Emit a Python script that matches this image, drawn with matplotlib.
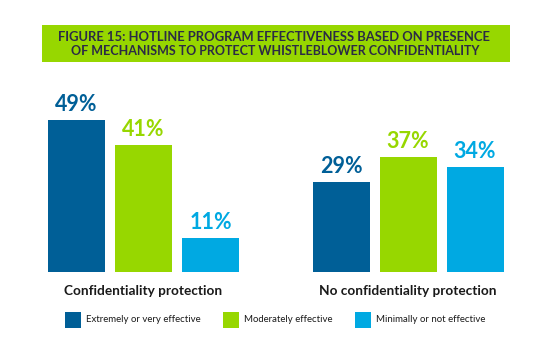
import matplotlib.pyplot as plt
from matplotlib.patches import Rectangle

# survey results, % of respondents
groups = ["Confidentiality protection", "No confidentiality protection"]
series = ["Extremely or very effective", "Moderately effective", "Minimally or not effective"]
extremely = [49, 29]
moderately = [41, 37]
minimally = [11, 34]
colors = ["#005f97", "#97d700", "#00a9e2"]

title_lines = ["FIGURE 15: HOTLINE PROGRAM EFFECTIVENESS BASED ON PRESENCE",
               "OF MECHANISMS TO PROTECT WHISTLEBLOWER CONFIDENTIALITY"]

W, H = 541, 349
FONT = "Lato"

fig = plt.figure(figsize=(W / 100, H / 100), dpi=100)

# title band
fig.add_artist(Rectangle((42 / W, 1 - 62 / H), 468 / W, 37 / H,
                         transform=fig.transFigure, color="#97d700", lw=0))
fig.text(274 / W, 1 - 37 / H, title_lines[0], ha="center", va="center",
         fontsize=9.4, fontweight="bold", color="#2b2b45", family=FONT)
fig.text(275 / W, 1 - 51 / H, title_lines[1], ha="center", va="center",
         fontsize=9.0, fontweight="bold", color="#2b2b45", family=FONT)

# bar area: group centres at x=0 and x=1
unit = 264.5
ax = fig.add_axes([0, (H - 272) / H, 1, 186 / H])
ax.set_xlim(-143.5 / unit, (W - 143.5) / unit)
ax.set_ylim(0, 60)
ax.axis("off")

width = 57 / unit
step = 67 / unit
for i, (vals, c) in enumerate(zip([extremely, moderately, minimally], colors)):
    xs = [g + (i - 1) * step for g in range(len(groups))]
    bars = ax.bar(xs, vals, width=width, color=c)
    for b, v in zip(bars, vals):
        ax.annotate(f"{v}%", (b.get_x() + b.get_width() / 2, v),
                    xytext=(0, 6.5), textcoords="offset points",
                    ha="center", va="baseline", fontsize=15.5,
                    fontweight="bold", color=c, family=FONT)

for g, name in enumerate(groups):
    ax.annotate(name, (g, 0), xytext=(0, -14), textcoords="offset points",
                ha="center", va="center", fontsize=9.8, fontweight="bold",
                color="#1a1a1a", family=FONT)

# legend
sq_x = [65, 223, 355]
for x, c, label in zip(sq_x, colors, series):
    fig.add_artist(Rectangle((x / W, 1 - 328 / H), 16 / W, 16 / H,
                             transform=fig.transFigure, color=c, lw=0))
    fig.text((x + 21) / W, 1 - 320 / H, label, ha="left", va="center",
             fontsize=6.9, color="#1a1a1a", family=FONT)

fig.savefig("out.png", dpi=100)
